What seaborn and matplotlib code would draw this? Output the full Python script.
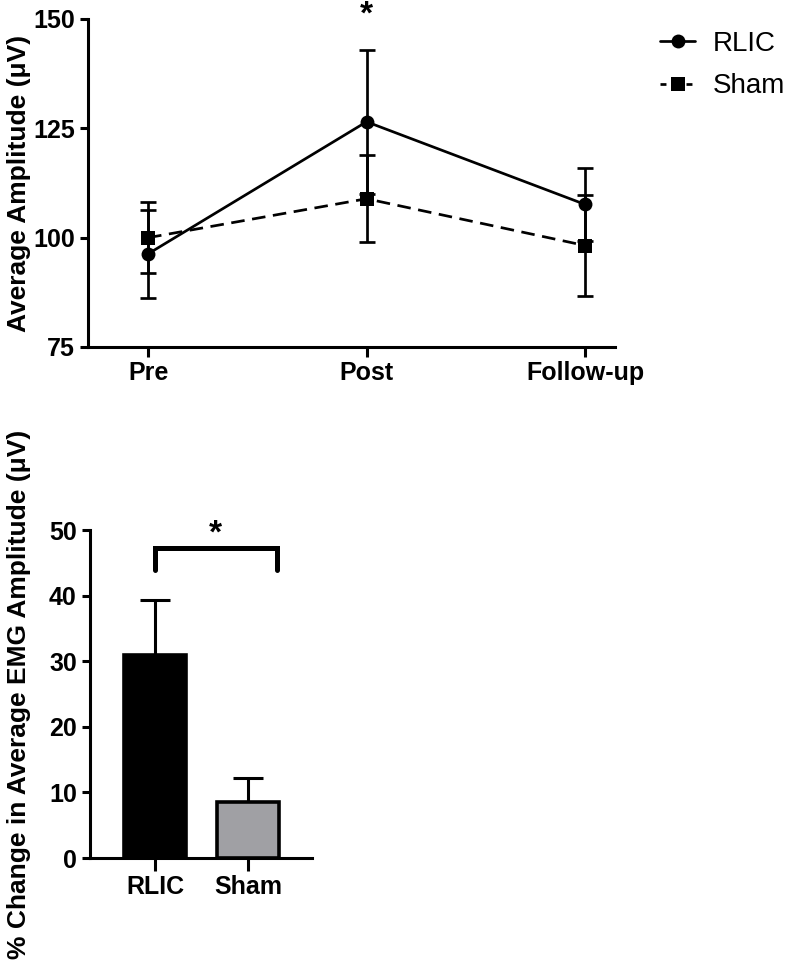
import matplotlib
matplotlib.use('Agg')
import matplotlib.pyplot as plt
from matplotlib.lines import Line2D
import seaborn as sns
import pandas as pd

# ---- data ----
timepoints = ['Pre', 'Post', 'Follow-up']
rlic_mean = [96.3, 126.5, 107.6]
rlic_err = [10.0, 16.5, 8.4]
sham_mean = [100.0, 108.9, 98.2]
sham_err = [8.1, 10.0, 11.5]

groups = ['RLIC', 'Sham']
pct_change = [30.9, 8.5]
pct_err = [8.4, 3.7]
bar_colors = ['#000000', '#a0a0a4']

top_yticks = [75, 100, 125, 150]
bot_yticks = [0, 10, 20, 30, 40, 50]

sns.set_theme(style='ticks')
plt.rcParams['font.family'] = ['Liberation Sans', 'DejaVu Sans']
plt.rcParams['axes.linewidth'] = 2.2
for k in ['text.color', 'axes.labelcolor', 'xtick.color', 'ytick.color', 'axes.edgecolor']:
    plt.rcParams[k] = 'black'

fig = plt.figure(figsize=(7.86, 9.66), dpi=100)

# ---- top line chart ----
ax1 = fig.add_axes([88/786, 1-347/966, 527/786, 328/966])
df = pd.DataFrame({
    'Time': timepoints * 2,
    'Amp': rlic_mean + sham_mean,
    'Group': ['RLIC'] * 3 + ['Sham'] * 3,
})
sns.lineplot(data=df, x='Time', y='Amp', hue='Group', style='Group',
             palette=['black', 'black'], markers={'RLIC': 'o', 'Sham': 's'},
             dashes={'RLIC': '', 'Sham': (5.0, 2.8)}, markersize=10,
             markeredgewidth=0, linewidth=1.95, legend=False, ax=ax1, zorder=3)
xs = list(range(len(timepoints)))
ax1.errorbar(xs, rlic_mean, yerr=rlic_err, fmt='none', ecolor='black',
             elinewidth=1.95, capsize=5.5, capthick=1.95, zorder=2)
ax1.errorbar(xs, sham_mean, yerr=sham_err, fmt='none', ecolor='black',
             elinewidth=1.95, capsize=5.5, capthick=1.95, zorder=2)
ax1.set_xlim(-0.275, 2.137)
ax1.set_ylim(75, 150)
ax1.set_yticks(top_yticks)
ax1.set_xticks(xs)
ax1.set_xticklabels(timepoints)
ax1.set_xlabel('')
ax1.set_ylabel('Average Amplitude (μV)', fontsize=19, fontweight='bold')
ax1.yaxis.set_label_coords(-0.108, 0.5)
ax1.tick_params(axis='y', labelsize=18, length=6, width=2.2, color='black', pad=3.5)
ax1.tick_params(axis='x', labelsize=18, length=7, width=2.2, color='black', pad=3)
for lab in ax1.get_xticklabels() + ax1.get_yticklabels():
    lab.set_fontweight('bold')
sns.despine(ax=ax1)
ax1.text(1, 150.8, '*', ha='center', va='center', fontsize=24, fontweight='bold', clip_on=False)

handles = [
    Line2D([], [], color='black', lw=1.95, marker='o', markersize=10, markeredgewidth=0),
    Line2D([], [], color='black', lw=1.95, marker='s', markersize=10, markeredgewidth=0,
           dashes=(2.2, 2.6)),
]
fig.legend(handles, groups, loc='center left', bbox_to_anchor=(660/786, 1-65/966),
           frameon=False, fontsize=20, handlelength=1.26, handletextpad=0.65,
           labelspacing=0.6, borderpad=0, borderaxespad=0)

# ---- bottom bar chart ----
ax2 = fig.add_axes([90/786, 1-858/966, 222/786, 328/966])
sns.barplot(x=groups, y=pct_change, hue=groups, palette=bar_colors, legend=False,
            width=0.67, edgecolor='black', linewidth=2.6, ax=ax2, zorder=3)
ax2.errorbar([0, 1], pct_change, yerr=[[0, 0], pct_err], fmt='none', ecolor='black',
             elinewidth=2.2, capsize=11, capthick=2.2, zorder=2)
ax2.set_xlim(-0.70, 1.69)
ax2.set_ylim(0, 50)
ax2.set_yticks(bot_yticks)
ax2.set_ylabel('% Change in Average EMG Amplitude (μV)', fontsize=19, fontweight='bold')
ax2.yaxis.set_label_coords(-0.266, 0.5)
ax2.tick_params(axis='y', labelsize=18, length=6, width=2.2, color='black', pad=3.5)
ax2.tick_params(axis='x', labelsize=18, length=9.4, width=2.2, color='black', pad=3)
for lab in ax2.get_xticklabels() + ax2.get_yticklabels():
    lab.set_fontweight('bold')
sns.despine(ax=ax2)
# significance bracket
ax2.plot([0, 0, 1.315, 1.315], [43.9, 47.2, 47.2, 43.9], color='black', lw=3.6,
         solid_joinstyle='miter', clip_on=False, zorder=4)
ax2.text(0.65, 49.4, '*', ha='center', va='center', fontsize=24, fontweight='bold', clip_on=False)

fig.savefig('out.png', dpi=100)
